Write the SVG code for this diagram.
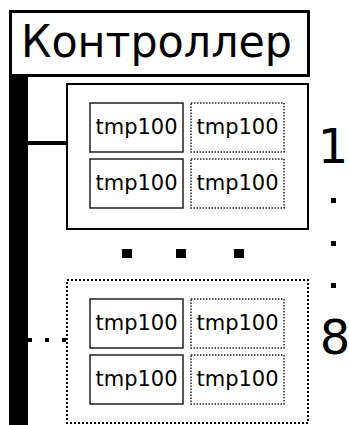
<svg xmlns="http://www.w3.org/2000/svg" width="349" height="425" viewBox="0 0 349 425">
<style>
text{font-family:"DejaVu Sans","Liberation Sans",sans-serif;fill:#000}
.chip{fill:#fff;stroke:#222;stroke-width:1.5}
.chipd{fill:#fff;stroke:#222;stroke-width:1.5;stroke-dasharray:1.5,1.5}
.lbl{font-size:21px;text-anchor:middle}
.big{font-size:48px;text-anchor:middle}
</style>
<rect width="349" height="425" fill="#fff"/>
<g id="connectors">
<rect x="9" y="75" width="19" height="350" fill="#000"/>
<line x1="28" y1="143" x2="67" y2="143" stroke="#000" stroke-width="4"/>
<line x1="28" y1="340" x2="67" y2="340" stroke="#000" stroke-width="4" stroke-dasharray="4,13"/>
</g>
<g id="controller">
<rect x="10.5" y="11.5" width="298" height="64" fill="#fff" stroke="#000" stroke-width="3"/>
<text x="21" y="57" font-size="45" textLength="271" lengthAdjust="spacingAndGlyphs">Контроллер</text>
</g>
<g id="group1">
<rect x="67" y="84" width="241" height="145" fill="#fff" stroke="#000" stroke-width="2"/>
<rect class="chip" x="90" y="103" width="93" height="49"/>
<rect class="chipd" x="191" y="103" width="93" height="49"/>
<rect class="chip" x="90" y="159" width="93" height="49"/>
<rect class="chipd" x="191" y="159" width="93" height="49"/>
<text class="lbl" x="136.5" y="134">tmp100</text>
<text class="lbl" x="237.5" y="134">tmp100</text>
<text class="lbl" x="136.5" y="190">tmp100</text>
<text class="lbl" x="237.5" y="190">tmp100</text>
</g>
<g id="ellipsis">
<rect x="122" y="249" width="10" height="9" fill="#000"/>
<rect x="176" y="249" width="10" height="9" fill="#000"/>
<rect x="234" y="249" width="10" height="9" fill="#000"/>
</g>
<g id="group8">
<rect x="67" y="280" width="241" height="143" fill="#fff" stroke="#000" stroke-width="2" stroke-dasharray="2,2"/>
<rect class="chip" x="90" y="299" width="93" height="49"/>
<rect class="chipd" x="191" y="299" width="93" height="49"/>
<rect class="chip" x="90" y="355" width="93" height="49"/>
<rect class="chipd" x="191" y="355" width="93" height="49"/>
<text class="lbl" x="136.5" y="330">tmp100</text>
<text class="lbl" x="237.5" y="330">tmp100</text>
<text class="lbl" x="136.5" y="386">tmp100</text>
<text class="lbl" x="237.5" y="386">tmp100</text>
</g>
<g id="numbering">
<text class="big" x="333" y="163">1</text>
<rect x="331" y="198" width="5" height="5" fill="#000"/>
<rect x="331" y="241" width="5" height="5" fill="#000"/>
<rect x="331" y="283" width="5" height="5" fill="#000"/>
<text class="big" x="335" y="354">8</text>
</g>
</svg>
